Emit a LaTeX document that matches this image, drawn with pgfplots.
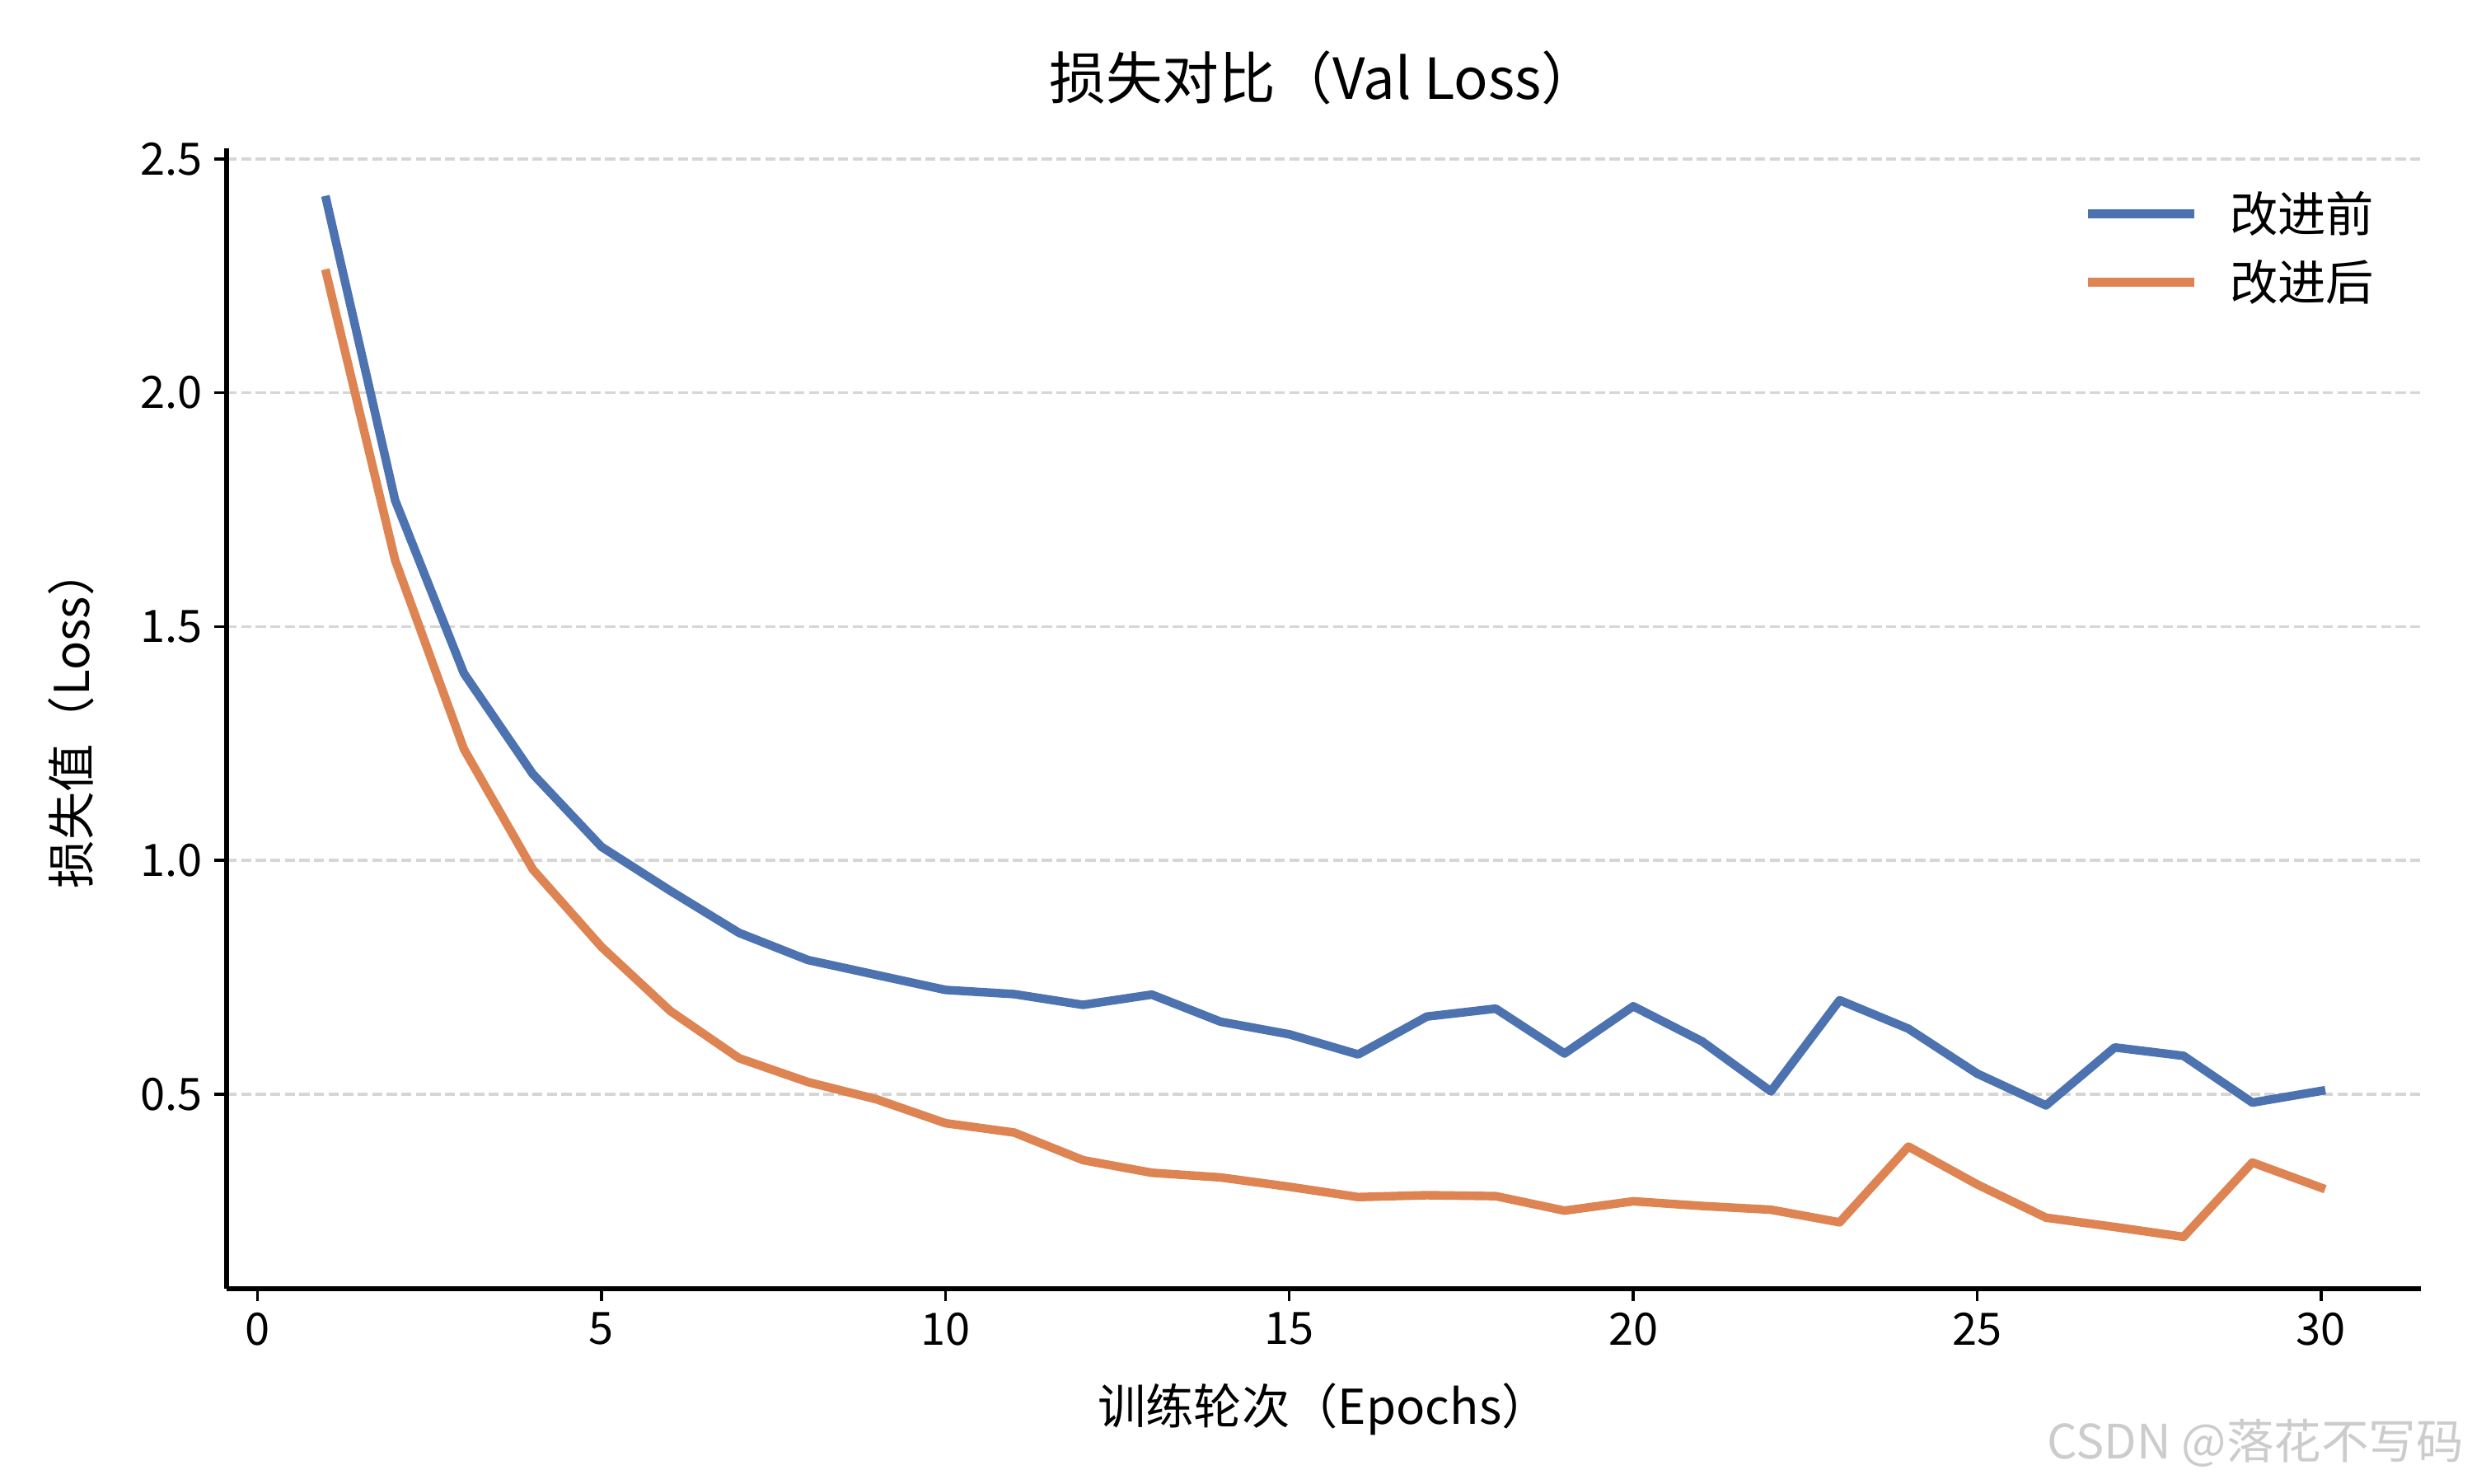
\documentclass[border=0pt]{standalone}
\usepackage{fontspec}
\setmainfont{Noto Sans CJK SC}
\usepackage{pgfplots}
\pgfplotsset{compat=1.18}
\usepackage{pgfplotstable}
\definecolor{cblue}{HTML}{4C72B0}
\definecolor{corange}{HTML}{DD8452}
\definecolor{cgrid}{HTML}{D6D6D6}
\pgfplotstableread{
x y
1 2.412
2 1.770
3 1.400
4 1.185
5 1.029
6 0.935
7 0.845
8 0.787
9 0.755
10 0.723
11 0.714
12 0.691
13 0.713
14 0.655
15 0.628
16 0.585
17 0.666
18 0.683
19 0.587
20 0.688
21 0.613
22 0.506
23 0.701
24 0.640
25 0.544
26 0.476
27 0.600
28 0.582
29 0.482
30 0.507
}\before
\pgfplotstableread{
x y
1 2.255
2 1.642
3 1.238
4 0.981
5 0.815
6 0.678
7 0.577
8 0.526
9 0.489
10 0.438
11 0.418
12 0.359
13 0.332
14 0.322
15 0.302
16 0.280
17 0.284
18 0.282
19 0.251
20 0.271
21 0.261
22 0.253
23 0.226
24 0.388
25 0.307
26 0.236
27 0.216
28 0.195
29 0.354
30 0.300
}\after
\begin{document}
\begin{tikzpicture}
\begin{axis}[
  at={(66pt,56.64pt)}, anchor=south west,
  scale only axis, width=639.1pt, height=332.2pt,
  xmin=-0.45, xmax=31.45, ymin=0.084, ymax=2.523,
  axis x line*=bottom, axis y line*=left,
  axis line style={-, line width=1.5pt, black},
  tick align=outside,
  major tick length=3.5pt,
  tick style={black, line width=0.8pt},
  xtick={0,5,10,15,20,25,30},
  ytick={0.5,1.0,1.5,2.0,2.5},
  /pgf/number format/assume math mode=true,
  yticklabel style={/pgf/number format/fixed, /pgf/number format/fixed zerofill, /pgf/number format/precision=1},
  ticklabel style={font=\fontsize{13}{15}\selectfont},
  ymajorgrids,
  major grid style={cgrid, line width=0.8pt, dash pattern=on 2.96pt off 1.28pt},
  title={损失对比（Val Loss）},
  title style={at={(axis description cs:0.5,1.0435)}, anchor=center, font=\fontsize{16.5}{19}\selectfont},
  xlabel={训练轮次（Epochs）},
  xlabel style={at={(axis description cs:0.5,-0.1055)}, anchor=center, font=\fontsize{14}{16}\selectfont},
  ylabel={损失值（Loss）},
  ylabel style={at={(axis description cs:-0.071,0.5)}, anchor=center, font=\fontsize{14}{16}\selectfont},
  legend style={at={(axis description cs:0.979,0.964)}, anchor=north east, draw=none, fill=none,
    font=\fontsize{14}{16}\selectfont, row sep=5.9pt, inner sep=0pt,
    nodes={inner sep=0pt, text height=12.3pt, text depth=1.7pt},
    /tikz/every odd column/.append style={column sep=9.2pt}},
  legend cell align=left,
  legend image code/.code={\draw[#1, line cap=butt] (0pt,0pt) -- (30.8pt,0pt);},
]
\addplot[cblue, line width=2.5pt, line join=round, line cap=rect] table[x=x,y=y] {\before};
\addlegendentry{改进前}
\addplot[corange, line width=2.5pt, line join=round, line cap=rect] table[x=x,y=y] {\after};
\addlegendentry{改进后}
\end{axis}
\node[text=gray!40, font=\fontsize{13.8}{16}\selectfont] at (656.9pt,11.8pt) {CSDN @落花不写码};
\pgfresetboundingbox
\path[use as bounding box] (0,0) rectangle (720pt,432pt);
\end{tikzpicture}
\end{document}
